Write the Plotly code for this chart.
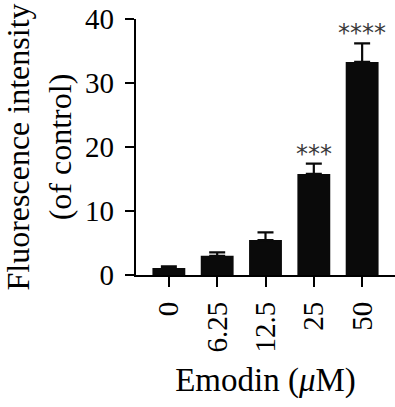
import plotly.graph_objects as go

categories = ["0", "6.25", "12.5", "25", "50"]
values = [1.1, 3.0, 5.45, 15.8, 33.3]
errors = [0.25, 0.55, 1.2, 1.6, 2.9]
stars = ["", "", "", "***", "****"]
y_ticks = [0, 10, 20, 30, 40]

FONT = "Liberation Serif"

fig = go.Figure()
fig.add_trace(go.Bar(
    x=list(range(len(categories))), y=values,
    width=0.68,
    marker=dict(color="#0a0a0a", line=dict(width=0)),
    error_y=dict(type="data", array=errors, arrayminus=[0]*len(errors),
                 symmetric=False, color="#0a0a0a", thickness=2.2, width=8),
))
for i, (v, e, s) in enumerate(zip(values, errors, stars)):
    if s:
        fig.add_annotation(
            x=i, y=v + e, text=s, showarrow=False,
            xanchor="center", yanchor="bottom", yshift=-6,
            font=dict(family="DejaVu Sans", size=24, color="#3a3a3a"),
        )

fig.update_layout(
    width=395, height=407,
    margin=dict(l=136, r=0, t=19, b=132),
    plot_bgcolor="white", paper_bgcolor="white",
    showlegend=False,
    font=dict(family=FONT, color="#000000", size=29),
    xaxis=dict(
        range=[-0.68, 4.68], automargin=False,
        tickmode="array", tickvals=list(range(len(categories))), ticktext=categories,
        tickangle=-90,
        showline=True, linecolor="black", linewidth=2.2,
        ticks="outside", ticklen=10, tickwidth=2.2, tickcolor="black",
        showgrid=False, zeroline=False,
        tickfont=dict(size=29), ticklabelstandoff=3,
        title=dict(text="Emodin (<i>μ</i>M)", font=dict(size=33), standoff=16),
    ),
    yaxis=dict(
        range=[0, 40], automargin=False,
        tickmode="array", tickvals=y_ticks,
        showline=True, linecolor="black", linewidth=2.2,
        ticks="outside", ticklen=9, tickwidth=2.2, tickcolor="black",
        showgrid=False, zeroline=False,
        tickfont=dict(size=29), ticklabelstandoff=5,
        title=dict(text="Fluorescence intensity<br>(of control)", font=dict(size=32), standoff=16),
    ),
)

fig.write_html(
    "out.html",
    config={"displayModeBar": False},
    post_script="document.body.style.margin='0';document.body.style.overflow='hidden';",
)
